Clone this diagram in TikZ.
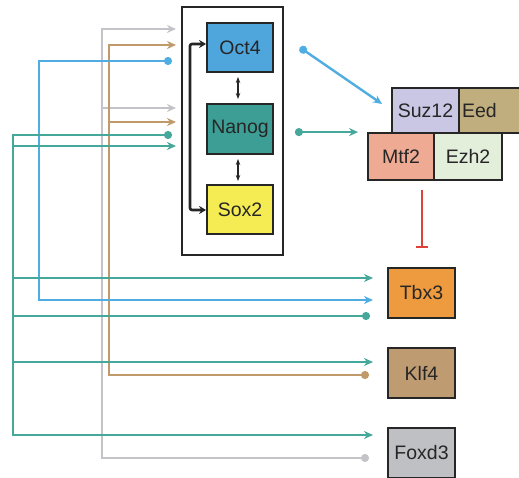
\documentclass[tikz,border=0pt]{standalone}
\usepackage{fontspec}
\setmainfont{Liberation Sans}
\usetikzlibrary{arrows.meta}

\definecolor{octblue}{HTML}{4EA6DD}
\definecolor{nanogteal}{HTML}{3D9E95}
\definecolor{soxyellow}{HTML}{F4EC52}
\definecolor{suzlilac}{HTML}{C9C7E3}
\definecolor{eedkhaki}{HTML}{C0AE7F}
\definecolor{mtfsalmon}{HTML}{EEAA93}
\definecolor{ezhgreen}{HTML}{E3EEDB}
\definecolor{tbxorange}{HTML}{EE9A3E}
\definecolor{klftan}{HTML}{BF9B72}
\definecolor{foxgray}{HTML}{BFC0C4}
\definecolor{linegray}{HTML}{C4C4C8}
\definecolor{linetan}{HTML}{C19A6C}
\definecolor{lineblue}{HTML}{4FADE2}
\definecolor{lineteal}{HTML}{46A89B}
\definecolor{boxline}{HTML}{262626}
\definecolor{inhibred}{HTML}{E0403A}

\tikzset{
  gene/.style={rectangle, draw=boxline, line width=1.8pt, text=boxline,
    inner sep=0pt, minimum width=66pt, minimum height=49pt,
    font=\fontsize{19.5}{22}\selectfont},
  link/.style={line width=2.4pt, -{Stealth[length=9pt,width=8pt]}},
  dotlink/.style={line width=2.4pt,
    {Circle[length=8pt]}-{Stealth[length=9pt,width=8pt]}},
}

\begin{document}
\begin{tikzpicture}[x=1pt, y=-1pt]
  \useasboundingbox (0,0) rectangle (519,478);

  % core network
  \node (core) [rectangle, draw=boxline, line width=2.6pt,
    minimum width=101pt, minimum height=248pt] at (232.5,131) {};
  \node (oct4) [gene, fill=octblue] at (240,47.5) {Oct4};
  \node (nanog) [gene, fill=nanogteal, minimum height=50pt] at (240,129) {Nanog};
  \node (sox2) [gene, fill=soxyellow] at (240,209.5) {Sox2};

  \draw[line width=1.8pt, boxline, {Stealth[length=6pt]}-{Stealth[length=6pt]}]
    (238,77) -- (238,99);
  \draw[line width=1.8pt, boxline, {Stealth[length=6pt]}-{Stealth[length=6pt]}]
    (238,159) -- (238,181);
  \draw[line width=2.6pt, boxline, rounded corners=2pt,
    {Stealth[length=7pt,width=8pt]}-{Stealth[length=7pt,width=8pt]}]
    (oct4.west |- 0,44) -| (190,127) |- (sox2.west |- 0,210);

  % PRC2 complex
  \node (suz12) [gene, fill=suzlilac, minimum width=67pt, minimum height=45pt]
    at (425.5,110.5) {Suz12};
  \node (eed) [gene, fill=eedkhaki, minimum width=62pt, minimum height=45pt,
    text width=56pt, align=left] at (490,110.5) {Eed};
  \node (mtf2) [gene, fill=mtfsalmon, minimum height=47pt] at (401,156.5) {Mtf2};
  \node (ezh2) [gene, fill=ezhgreen, minimum width=68pt, minimum height=47pt]
    at (468,156.5) {Ezh2};

  % targets
  \node (tbx3) [gene, fill=tbxorange, minimum width=67pt, minimum height=50pt]
    at (421.5,293) {Tbx3};
  \node (klf4) [gene, fill=klftan, minimum width=67pt, minimum height=50pt]
    at (421.5,373) {Klf4};
  \node (foxd3) [gene, fill=foxgray, minimum width=67pt, minimum height=50pt]
    at (421.5,453) {Foxd3};

  \draw[dotlink, lineblue] ([xshift=26pt]oct4.east) -- ([xshift=-9pt,yshift=6.5pt]suz12.west);
  \draw[dotlink, lineteal] ([xshift=21pt]nanog.east |- mtf2.north) -- ([xshift=-9pt]mtf2.north west);
  \draw[line width=1.8pt, inhibred, -{Bar[width=12pt]}]
    ([xshift=-13pt,yshift=-9pt]mtf2.south east) -- ++(0,58);

  % feedback lines
  \coordinate (fox src) at (369,458);
  \coordinate (klf src) at (369,375);
  \coordinate (oct src) at (172,61);
  \coordinate (nanog src) at (172,135);
  \coordinate (tbx src) at (370,316);

  \draw[dotlink, linegray] (fox src) -| (102,29) -- (176,29);
  \draw[link, linegray] (102,108) -- (176,108);
  \draw[dotlink, linetan] (klf src) -| (109,45) -- (176,45);
  \draw[link, linetan] (109,122) -- (176,122);
  \draw[dotlink, lineblue] (oct src) -| (39,300) -- (373,300);
  \draw[dotlink, lineteal] (nanog src) -| (13,435) -- (373,435);
  \draw[link, lineteal] (13,278) -- (373,278);
  \draw[link, lineteal] (13,362) -- (373,362);
  \draw[dotlink, lineteal] (tbx src) -| (13,146) -- (176,146);
\end{tikzpicture}
\end{document}
